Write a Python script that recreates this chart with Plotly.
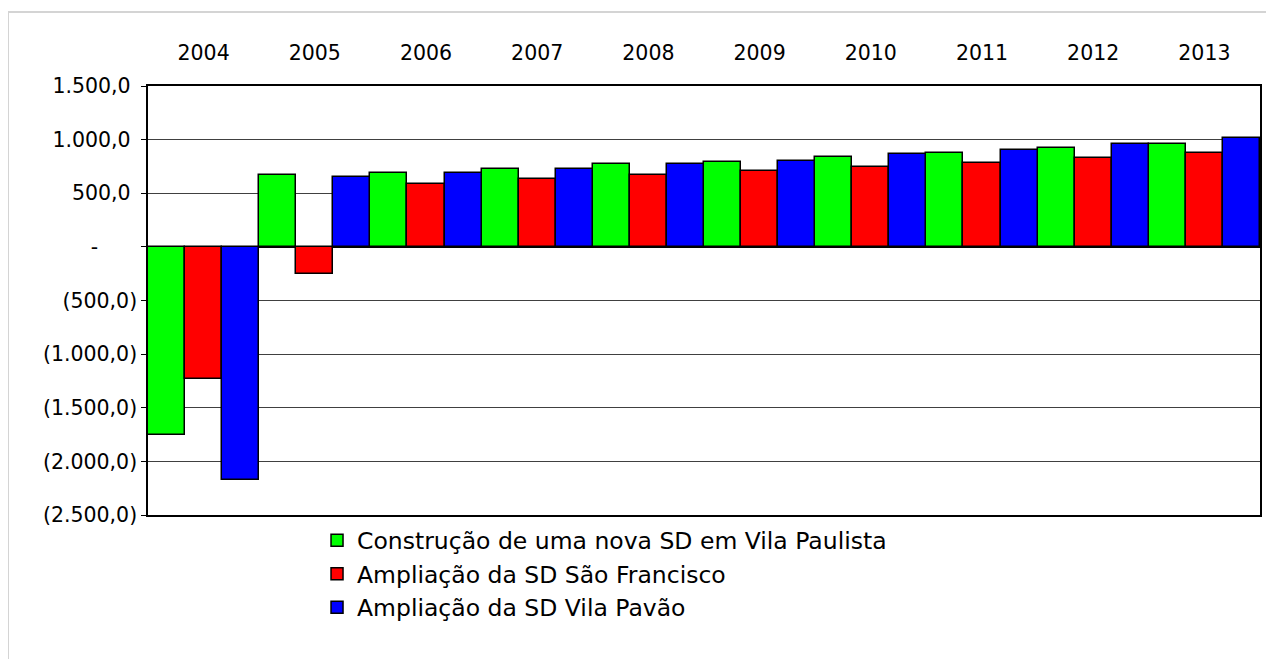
import plotly.graph_objects as go

anos = ["2004", "2005", "2006", "2007", "2008", "2009", "2010", "2011", "2012", "2013"]

vila_paulista = [-1755, 670, 690, 730, 770, 790, 840, 880, 920, 960]
sao_francisco = [-1235, -250, 590, 630, 670, 710, 745, 785, 825, 880]
vila_pavao = [-2175, 650, 690, 730, 770, 805, 865, 900, 960, 1015]

nomes = [
    "Construção de uma nova SD em Vila Paulista",
    "Ampliação da SD São Francisco",
    "Ampliação da SD Vila Pavão",
]
cores = ["#00FF00", "#FF0000", "#0000FF"]

y_ticks = [1500, 1000, 500, 0, -500, -1000, -1500, -2000, -2500]
nb = "\u00a0"
y_labels = [
    "1.500,0" + nb, "1.000,0" + nb, "500,0" + nb, "-" + nb * 6,
    "(500,0)", "(1.000,0)", "(1.500,0)", "(2.000,0)", "(2.500,0)",
]

fonte = "DejaVu Sans"

fig = go.Figure()
for nome, cor, vals in zip(nomes, cores, [vila_paulista, sao_francisco, vila_pavao]):
    fig.add_trace(go.Bar(
        x=anos, y=vals, name=nome, legendgroup=nome,
        marker=dict(color=cor, line=dict(color="black", width=1.5)),
    ))

# a pagina tem 8px de margem no body, por isso 1266x651
fig.update_layout(
    width=1266, height=651,
    margin=dict(l=140, r=14, t=78, b=144),
    paper_bgcolor="white", plot_bgcolor="white",
    barmode="group", bargap=0, bargroupgap=0,
    font=dict(family=fonte, size=20.5, color="black"),
    showlegend=True,
    legend=dict(
        x=0.152, y=-0.008, xanchor="left", yanchor="top",
        font=dict(size=23.5), traceorder="normal", tracegroupgap=0,
        bgcolor="rgba(0,0,0,0)",
    ),
    xaxis=dict(
        type="category", side="top", showgrid=False,
        showline=True, linecolor="black", linewidth=1.5, mirror=True,
        ticks="", ticklabelstandoff=16,
    ),
    yaxis=dict(
        range=[-2500, 1500], tickvals=y_ticks, ticktext=y_labels,
        showgrid=True, gridcolor="#404040", gridwidth=1,
        zeroline=True, zerolinecolor="black", zerolinewidth=2,
        showline=True, linecolor="black", linewidth=1.5, mirror=True,
        ticks="outside", ticklen=5, tickcolor="black",
    ),
    shapes=[
        dict(type="line", xref="paper", yref="paper",
             x0=-0.1259, x1=1.1, y0=1.1725, y1=1.1725,
             line=dict(color="#d4d4d4", width=2)),
        dict(type="line", xref="paper", yref="paper",
             x0=-0.1259, x1=-0.1259, y0=-0.4, y1=1.1725,
             line=dict(color="#d4d4d4", width=2)),
    ],
)

fig.write_html("out.html")
